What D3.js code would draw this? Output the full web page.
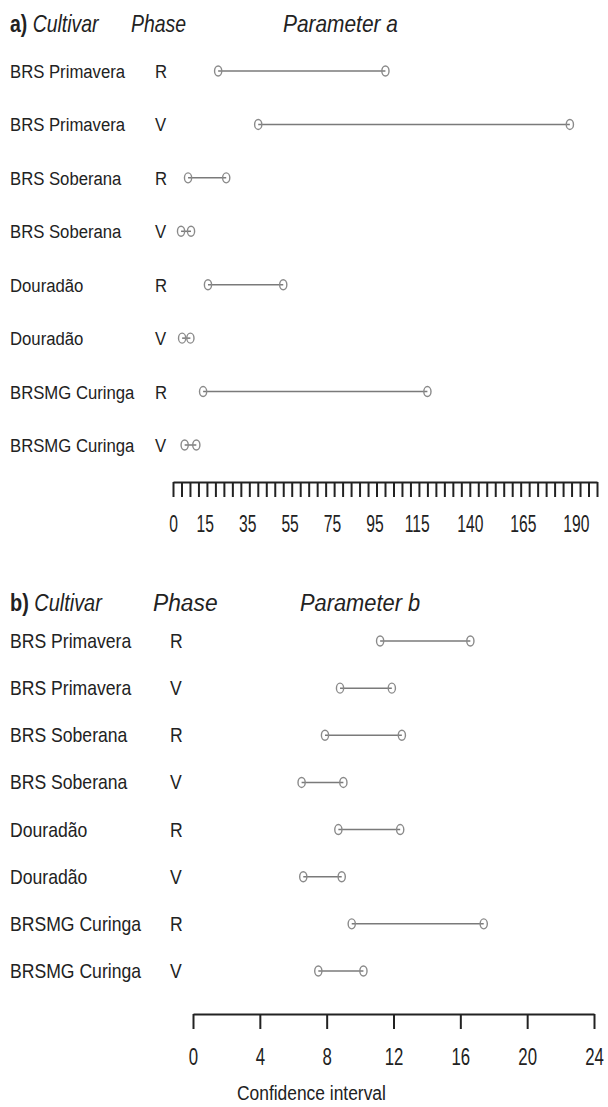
<!DOCTYPE html>
<html>
<head>
<meta charset="utf-8">
<script src="https://cdn.jsdelivr.net/npm/d3@7"></script>
<style>
  html, body { margin: 0; padding: 0; background: #fff; }
  svg text { font-family: "Liberation Sans", Arial, sans-serif; fill: #222; }
</style>
</head>
<body>
<svg id="chart" width="608" height="1107"></svg>
<script>
// Confidence intervals of parameters a and b, per cultivar and phase

const CULTIVARS = ["BRS Primavera", "BRS Primavera", "BRS Soberana", "BRS Soberana",
                   "Douradão", "Douradão", "BRSMG Curinga", "BRSMG Curinga"];
const PHASES = ["R", "V", "R", "V", "R", "V", "R", "V"];

const A_LOW  = [21.3, 40.2, 7.1, 3.8, 16.5, 4.3, 14.2, 5.5];
const A_HIGH = [100.2, 187.2, 25.1, 8.5, 52.0, 8.2, 120.0, 11.0];

const B_LOW  = [11.2, 8.8, 7.9, 6.5, 8.7, 6.6, 9.5, 7.5];
const B_HIGH = [16.6, 11.9, 12.5, 9.0, 12.4, 8.9, 17.4, 10.2];

const A_TICK_LABELS = [0, 15, 35, 55, 75, 95, 115, 140, 165, 190];
const A_MINOR_TICKS = d3.range(0, 201, 4);
const B_TICK_LABELS = [0, 4, 8, 12, 16, 20, 24];

const svg = d3.select("#chart");
const rowIds = d3.range(CULTIVARS.length);

// condensed look: squeeze text horizontally around its anchor
function squeeze(sel, x, y, sx) {
    return sel.attr("x", 0).attr("y", 0)
        .attr("transform", `translate(${x},${y}) scale(${sx},1)`);
}

function drawPanel(opts) {
    const g = svg.append("g");

    // header
    const head = squeeze(g.append("text"), 10, opts.titleY, opts.hs[0]).style("font-size", "24px");
    head.append("tspan").style("font-weight", "bold").text(opts.letter);
    head.append("tspan").style("font-style", "italic").text(" Cultivar");
    squeeze(g.append("text"), opts.phaseTitleX, opts.titleY, opts.hs[1])
        .style("font-size", "24px").style("font-style", "italic").text("Phase");
    squeeze(g.append("text"), opts.paramX, opts.titleY, opts.hs[2])
        .style("font-size", "24px").style("font-style", "italic").text(opts.param);

    const y = d3.scalePoint().domain(rowIds).range(opts.rowRange);
    const x = d3.scaleLinear().domain(opts.domain).range(opts.range);

    // row labels
    g.selectAll("text.cult").data(rowIds).join("text")
        .attr("class", "cult")
        .attr("transform", i => `translate(10,${y(i) + 7}) scale(0.88,1)`)
        .style("font-size", opts.labelSize)
        .text(i => CULTIVARS[i]);
    g.selectAll("text.phase").data(rowIds).join("text")
        .attr("class", "phase")
        .attr("transform", i => `translate(${opts.phaseX},${y(i) + 7}) scale(0.88,1)`)
        .style("font-size", opts.labelSize)
        .text(i => PHASES[i]);

    // intervals
    g.selectAll("line.ci").data(rowIds).join("line")
        .attr("class", "ci")
        .attr("x1", i => x(opts.low[i]))
        .attr("x2", i => x(opts.high[i]))
        .attr("y1", i => y(i))
        .attr("y2", i => y(i))
        .attr("stroke", "#7a7a7a")
        .attr("stroke-width", 1.5);

    const ends = [];
    rowIds.forEach(i => {
        ends.push({ i, v: opts.low[i] });
        ends.push({ i, v: opts.high[i] });
    });
    g.selectAll("ellipse.end").data(ends).join("ellipse")
        .attr("class", "end")
        .attr("cx", d => x(d.v))
        .attr("cy", d => y(d.i))
        .attr("rx", 3.6)
        .attr("ry", 5)
        .attr("fill", "none")
        .attr("stroke", "#8a8a8a")
        .attr("stroke-width", 1.4);

    // axis: ticks then labels
    const tickAxis = d3.axisBottom(x)
        .tickValues(opts.ticks)
        .tickSize(15)
        .tickSizeOuter(0)
        .tickFormat("");
    const ax = g.append("g").attr("transform", `translate(0,${opts.axisY})`).call(tickAxis);
    ax.selectAll("path, line").attr("stroke", "#222").attr("stroke-width", 2);

    const labAxis = d3.axisBottom(x)
        .tickValues(opts.tickLabels)
        .tickSize(0)
        .tickPadding(opts.labelPad);
    const lab = g.append("g").attr("transform", `translate(0,${opts.axisY})`).call(labAxis);
    lab.select(".domain").remove();
    lab.attr("font-family", null).attr("font-size", null);
    lab.selectAll("text")
        .style("font-size", opts.tickFont)
        .attr("fill", "#222")
        .attr("transform", `scale(${opts.tickScale},1)`);
    return g;
}

drawPanel({
    letter: "a)", param: "Parameter a",
    titleY: 32, phaseTitleX: 131, paramX: 283, hs: [0.81, 0.81, 0.87],
    rowRange: [71, 445], phaseX: 155, labelSize: "19px",
    domain: [0, 200], range: [173, 597],
    low: A_LOW, high: A_HIGH,
    ticks: A_MINOR_TICKS, tickLabels: A_TICK_LABELS,
    axisY: 482, labelPad: 34, tickFont: "23px", tickScale: 0.68
});

drawPanel({
    letter: "b)", param: "Parameter b",
    titleY: 611, phaseTitleX: 153, paramX: 300, hs: [0.83, 0.95, 0.91],
    rowRange: [641, 971], phaseX: 170, labelSize: "20px",
    domain: [0, 24], range: [193, 594],
    low: B_LOW, high: B_HIGH,
    ticks: B_TICK_LABELS, tickLabels: B_TICK_LABELS,
    axisY: 1014, labelPad: 34, tickFont: "24px", tickScale: 0.7
});

squeeze(svg.append("text"), 237, 1100, 0.87)
    .style("font-size", "20px")
    .text("Confidence interval");
</script>
</body>
</html>
